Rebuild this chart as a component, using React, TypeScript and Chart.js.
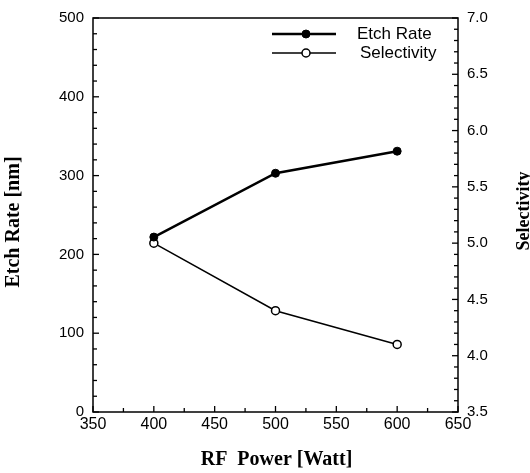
import React, { useEffect, useRef } from "react";
import { Chart, registerables } from "chart.js";

Chart.register(...registerables);

const power = [400, 500, 600];
const etchRate = [222, 303, 331];
const selectivity = [5.0, 4.4, 4.1];
const seriesNames = ["Etch Rate", "Selectivity"];
const xTitle = "RF  Power [Watt]";
const yTitle = "Etch Rate [nm]";
const y1Title = "Selectivity";

const framePlugin = {
  id: "frameAndDecor",
  afterDraw(chart: any) {
    const { ctx, chartArea, scales } = chart;
    const { left, right, top, bottom } = chartArea;
    ctx.save();
    ctx.strokeStyle = "#000";
    ctx.lineWidth = 1.5;
    ctx.strokeRect(left, top, right - left, bottom - top);

    // inward ticks
    ctx.lineWidth = 1.3;
    const x = scales.x;
    for (let v = 350; v <= 650; v += 25) {
      const px = x.getPixelForValue(v);
      const len = v % 50 === 0 ? 6 : 4;
      ctx.beginPath();
      ctx.moveTo(px, bottom);
      ctx.lineTo(px, bottom - len);
      ctx.stroke();
    }
    const y = scales.y;
    for (let v = 0; v <= 500; v += 20) {
      const py = y.getPixelForValue(v);
      const len = v % 100 === 0 ? 6 : 4;
      ctx.beginPath();
      ctx.moveTo(left, py);
      ctx.lineTo(left + len, py);
      ctx.stroke();
    }
    const y1 = scales.y1;
    for (let i = 0; i <= 35; i++) {
      const v = 3.5 + i * 0.1;
      const py = y1.getPixelForValue(v);
      const len = i % 5 === 0 ? 6 : 4;
      ctx.beginPath();
      ctx.moveTo(right, py);
      ctx.lineTo(right - len, py);
      ctx.stroke();
    }

    // axis titles
    ctx.fillStyle = "#000";
    ctx.font = 'bold 20px "Liberation Serif"';
    ctx.textAlign = "center";
    ctx.textBaseline = "middle";
    ctx.fillText(xTitle, (left + right) / 2 + 1, 460);
    ctx.save();
    ctx.translate(14, 222);
    ctx.rotate(-Math.PI / 2);
    ctx.fillText(yTitle, 0, 0);
    ctx.restore();
    ctx.font = 'bold 18px "Liberation Serif"';
    ctx.save();
    ctx.translate(524, 211);
    ctx.rotate(-Math.PI / 2);
    ctx.fillText(y1Title, 0, 0);
    ctx.restore();

    // legend
    const rows = [34, 53];
    const textX = [357, 360];
    chart.data.datasets.forEach((ds: any, i: number) => {
      const ly = rows[i];
      ctx.strokeStyle = ds.borderColor;
      ctx.lineWidth = ds.borderWidth;
      ctx.beginPath();
      ctx.moveTo(272, ly);
      ctx.lineTo(336, ly);
      ctx.stroke();
      ctx.beginPath();
      ctx.arc(306, ly, ds.pointRadius, 0, Math.PI * 2);
      ctx.fillStyle = ds.pointBackgroundColor;
      ctx.fill();
      ctx.lineWidth = ds.pointBorderWidth;
      ctx.strokeStyle = ds.pointBorderColor;
      ctx.stroke();
      ctx.fillStyle = "#000";
      ctx.font = '17px "Liberation Sans"';
      ctx.textAlign = "left";
      ctx.textBaseline = "middle";
      ctx.fillText(ds.label, textX[i], ly);
    });
    ctx.restore();
  },
};

export default function App() {
  const ref = useRef<HTMLCanvasElement | null>(null);
  useEffect(() => {
    document.body.style.margin = "0";
    const canvas = ref.current;
    if (!canvas) return;
    const chart = new Chart(canvas, {
      type: "line",
      data: {
        datasets: [
          {
            label: seriesNames[0],
            data: power.map((p, i) => ({ x: p, y: etchRate[i] })),
            yAxisID: "y",
            borderColor: "#000",
            borderWidth: 2.5,
            pointRadius: 4,
            pointBackgroundColor: "#000",
            pointBorderColor: "#000",
            pointBorderWidth: 1,
            tension: 0,
          },
          {
            label: seriesNames[1],
            data: power.map((p, i) => ({ x: p, y: selectivity[i] })),
            yAxisID: "y1",
            borderColor: "#000",
            borderWidth: 1.5,
            pointRadius: 4,
            pointBackgroundColor: "#fff",
            pointBorderColor: "#000",
            pointBorderWidth: 1.5,
            tension: 0,
          },
        ],
      },
      options: {
        animation: false,
        responsive: false,
        devicePixelRatio: 1,
        layout: { padding: { top: 14, left: 0, right: 0, bottom: 0 } },
        plugins: { legend: { display: false }, tooltip: { enabled: false } },
        scales: {
          x: {
            type: "linear",
            min: 350,
            max: 650,
            grid: { display: false, drawTicks: false },
            border: { display: false },
            ticks: {
              stepSize: 50,
              padding: 3,
              color: "#000",
              font: { family: "Liberation Sans", size: 16 },
              maxRotation: 0,
            },
            afterFit: (s: any) => {
              s.height = 61;
            },
          },
          y: {
            type: "linear",
            position: "left",
            min: 0,
            max: 500,
            grid: { display: false, drawTicks: false },
            border: { display: false },
            ticks: {
              stepSize: 100,
              padding: 9,
              color: "#000",
              font: { family: "Liberation Sans", size: 15 },
            },
            afterFit: (s: any) => {
              s.width = 93;
            },
          },
          y1: {
            type: "linear",
            position: "right",
            min: 3.5,
            max: 7.0,
            grid: { display: false, drawTicks: false },
            border: { display: false },
            ticks: {
              stepSize: 0.5,
              padding: 9,
              color: "#000",
              font: { family: "Liberation Sans", size: 15 },
              callback: (v: any) => Number(v).toFixed(1),
            },
            afterFit: (s: any) => {
              s.width = 72;
            },
          },
        },
      },
      plugins: [framePlugin],
    } as any);
    return () => chart.destroy();
  }, []);
  return (
    <div style={{ position: "absolute", left: 0, top: 0, width: 530, height: 473, background: "#fff" }}>
      <canvas ref={ref} width={530} height={473} />
    </div>
  );
}
